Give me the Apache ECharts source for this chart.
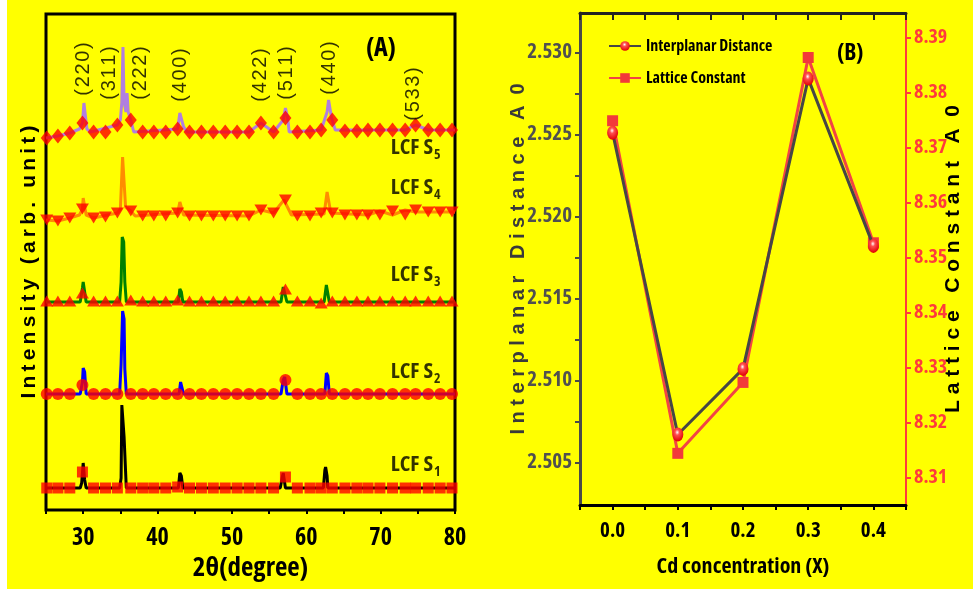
<!DOCTYPE html>
<html>
<head>
<meta charset="utf-8">
<style>
  html, body { margin: 0; padding: 0; background: #fff; }
  #paper { position: absolute; left: 7px; top: 0; width: 966px; height: 589px; background: #ffff00; }
  #chart { position: absolute; left: 0; top: 0; width: 973px; height: 592px; }
</style>
<script src="https://cdn.jsdelivr.net/npm/echarts@6.0.0/dist/echarts.min.js"></script>
</head>
<body>
<div id="paper"></div>
<div id="chart"></div>
<script>
// ---- (A) XRD patterns: [2theta, intensity above own baseline] ----
const sampleNumbers = ['1', '2', '3', '4', '5'];
const baselines = [22, 116, 208, 293, 378];
const sampleLabelY = [45, 138, 235, 322, 362];

const patternS1 = [[25,0],[29.6,0],[29.8,5],[30.0,25],[30.2,8],[30.4,0],[34.9,0],[35.1,10],[35.2,83],[35.4,83],[35.5,51],[35.7,51],[35.8,0],
  [42.8,0],[43.0,15],[43.2,12],[43.4,0],[56.5,0],[56.8,12],[56.9,15],[57.2,0],[62.3,0],[62.5,18],[62.6,21],[62.8,12],[62.9,0],[80,0]];
const patternS2 = [[25,0],[29.6,0],[29.9,12],[30.0,26],[30.2,22],[30.4,0],[34.9,0],[35.1,30],[35.3,83],[35.5,75],[35.6,25],[35.8,0],
  [42.9,0],[43.1,12],[43.3,10],[43.5,0],[56.6,0],[56.9,14],[57.1,17],[57.4,0],[62.5,0],[62.7,21],[62.9,18],[63.1,0],[80,0]];
const patternS3 = [[25,0],[29.6,0],[29.9,14],[30.0,20],[30.2,18],[30.4,0],[34.9,0],[35.1,20],[35.25,65],[35.45,60],[35.6,20],[35.8,0],
  [42.8,0],[43.0,13],[43.2,10],[43.4,0],[56.6,0],[56.9,15],[57.1,15],[57.4,0],[62.4,0],[62.7,17],[62.9,15],[63.1,0],[80,0]];
const patternS4 = [[25,-3],[26.6,-4],[28.2,-1],[29.5,2],[29.9,8],[30.0,19],[30.2,19],[30.4,2],[31.4,-1],[34.6,4],[35.0,8],[35.3,60],[35.5,60],[35.7,10],
  [36.4,6],[37,1],[42.7,4],[43.0,15],[43.2,15],[43.5,2],[52.3,1],[53.9,7],[55.6,4],[57.0,17],[58.0,2],[62.4,3],[62.8,25],[63.0,25],[63.3,4],
  [68.3,2],[69.9,6],[71.6,2],[73.3,7],[74.7,5],[80,5]];
const patternS5 = [[25,-6],[26.6,-4],[28.2,-1],[29.5,3],[29.9,9],[30.1,29],[30.3,29],[30.5,3],[31,0],[34.6,7],[35.0,12],[35.2,30],[35.35,85],[35.5,30],
  [35.75,20],[35.9,39],[36.05,20],[36.4,12],[36.8,0],[42.7,3],[43.0,19],[43.2,19],[43.5,5],[44,0],[52.3,0],[53.9,9],[55.6,0],[56.9,12],[57.2,24],
  [57.5,14],[57.7,0],[62.0,2],[62.8,20],[63.0,32],[63.2,32],[63.4,14],[63.9,2],[73.3,2],[74.7,7],[76.4,2],[80,2]];

// symbol positions along each trace (every ~1.6 deg) and their heights
const markerAngles = [25.1, 26.6, 28.2, 29.9, 31.4, 33.0, 34.6, 36.4, 38.0, 39.5, 41.1, 42.7, 44.3, 45.9, 47.5, 49.1, 50.7, 52.3,
  53.9, 55.6, 57.2, 58.8, 60.5, 62.0, 63.5, 65.2, 66.8, 68.3, 69.9, 71.6, 73.3, 74.7, 76.4, 78.0, 79.6];
const markerS1 = [0,0,0,16,0,0,0,0,0,0,0,1,0,0,0,0,0,0,0,0,11,0,0,0,0,0,0,0,0,0,0,0,0,0,0];
const markerS2 = [0,0,0,9,0,0,0,0,0,0,0,0,0,0,0,0,0,0,0,0,14,0,0,0,0,0,0,0,0,0,0,0,0,0,0];
const markerS3 = [1,1,1,9,1,1,1,2,1,1,1,2,1,1,1,1,1,1,1,1,13,1,1,-1,1,1,1,1,1,1,1,1,1,1,1];
const markerS4 = [-3,-4,-1,8,-1,0,4,6,1,1,1,4,1,1,1,1,1,1,7,4,17,1,1,4,4,2,2,2,2,6,2,7,5,5,5];
const markerS5 = [-6,-4,-1,9,0,0,7,12,0,0,0,3,0,0,0,0,0,0,9,0,14,0,0,2,12,1,1,2,2,2,2,7,2,2,2];

const millerLabels = ['(220)', '(311)', '(222)', '(400)', '(422)', '(511)', '(440)', '(533)'];
const millerAngles = [30.0, 33.6, 37.7, 43.1, 53.9, 57.3, 63.1, 74.4];
const millerLevels = [441, 437, 437, 435, 435, 437, 442, 416];

// ---- (B) Cd concentration ----
const cdConcentration = [0.0, 0.1, 0.2, 0.3, 0.4];
const interplanarDistance = [2.5251, 2.5067, 2.5107, 2.5284, 2.5182];
const latticeConstant = [8.3749, 8.3144, 8.3273, 8.3864, 8.3527];
const leftTicks = [2.505, 2.51, 2.515, 2.52, 2.525, 2.53];
const leftMinorTicks = [2.505, 2.5075, 2.51, 2.5125, 2.515, 2.5175, 2.52, 2.5225, 2.525, 2.5275, 2.53];
const rightTicks = [8.31, 8.32, 8.33, 8.34, 8.35, 8.36, 8.37, 8.38, 8.39];

const ARIAL = "'Liberation Sans', Arial, sans-serif";
const narrow = (size, color) => ({
  fontFamily: "'Open Sans', sans-serif", fontWeight: 'bold condensed', fontSize: size, color: color || '#000'
});
const RED = '#ff0000';

const patterns = [patternS1, patternS2, patternS3, patternS4, patternS5];
const markers = [markerS1, markerS2, markerS3, markerS4, markerS5];
const traceColors = ['#000000', '#0000ff', '#008000', '#ff8c00', '#b07fe0'];
const markerShapes = ['rect', 'circle', 'triangle', 'triangle', 'diamond'];
const markerSizes = [[11, 11], [12, 12], [13, 11], [13, 11], [12, 15]];
const markerRotate = [0, 0, 0, 180, 0];

const spread = (s, gap) => s.split('').join(gap);

const chart = echarts.init(document.getElementById('chart'), null, { renderer: 'canvas' });

const series = [];
patterns.forEach((pat, i) => {
  series.push({
    type: 'line', xAxisIndex: 0, yAxisIndex: 0, z: 2,
    data: pat.map(p => [p[0], p[1] + baselines[i]]),
    showSymbol: false, symbol: 'none',
    lineStyle: { color: traceColors[i], width: 3 },
    silent: true
  });
  series.push({
    type: 'scatter', xAxisIndex: 0, yAxisIndex: 0, z: 3,
    data: markerAngles.map((a, k) => [a, markers[i][k] + baselines[i]]),
    symbol: markerShapes[i], symbolSize: markerSizes[i], symbolRotate: markerRotate[i],
    itemStyle: { color: RED },
    silent: true
  });
});

// sample names, LCF S1..S5
series.push({
  type: 'scatter', xAxisIndex: 0, yAxisIndex: 0, z: 4,
  data: sampleNumbers.map((n, i) => [71.3, sampleLabelY[i]]),
  symbolSize: 1, itemStyle: { color: 'transparent' },
  label: {
    show: true, position: 'right', distance: 0,
    formatter: p => '{a|LCF S}{b|' + sampleNumbers[p.dataIndex] + '}',
    rich: {
      a: Object.assign(narrow(22), { lineHeight: 22, verticalAlign: 'top' }),
      b: Object.assign(narrow(14), { lineHeight: 14, padding: [11, 0, 0, 1], verticalAlign: 'top' })
    }
  },
  silent: true
});

// Miller indices
series.push({
  type: 'scatter', xAxisIndex: 0, yAxisIndex: 0, z: 4,
  data: millerAngles.map((a, k) => [a, millerLevels[k]]),
  symbolSize: 1, itemStyle: { color: 'transparent' },
  label: {
    show: true, position: 'inside', rotate: 90,
    formatter: p => spread(millerLabels[p.dataIndex], '\u200a'),
    fontFamily: ARIAL, fontSize: 20, color: '#000'
  },
  silent: true
});

// (B)
series.push({
  name: 'Lattice Constant', type: 'line', xAxisIndex: 1, yAxisIndex: 2, z: 3,
  data: cdConcentration.map((c, i) => [c, latticeConstant[i]]),
  symbol: 'rect', symbolSize: 11,
  itemStyle: { color: '#f23a3a' },
  lineStyle: { color: '#f24444', width: 3 }
});
series.push({
  name: 'Interplanar Distance', type: 'line', xAxisIndex: 1, yAxisIndex: 1, z: 4,
  data: cdConcentration.map((c, i) => [c, interplanarDistance[i]]),
  symbol: 'circle', symbolSize: [11, 14],
  itemStyle: {
    color: new echarts.graphic.RadialGradient(0.45, 0.35, 0.65, [
      { offset: 0, color: '#ffffff' },
      { offset: 0.3, color: '#ff5050' },
      { offset: 1, color: '#e00000' }
    ])
  },
  lineStyle: { color: '#464646', width: 3 }
});

chart.setOption({
  backgroundColor: 'transparent',
  animation: false,
  title: [
    { text: '(A)', left: 361, top: 31, textStyle: narrow(26) },
    { text: '(B)', left: 832, top: 37, textStyle: narrow(23) }
  ],
  legend: {
    data: ['Interplanar Distance', 'Lattice Constant'],
    orient: 'vertical', left: 603, top: 33, itemWidth: 32, itemHeight: 12, itemGap: 16,
    textStyle: narrow(16)
  },
  grid: [
    { left: 46, top: 14, width: 409, height: 496, show: true, borderColor: '#000', borderWidth: 3, backgroundColor: 'transparent' },
    { left: 580, top: 13, width: 326, height: 492 }
  ],
  xAxis: [
    {
      gridIndex: 0, type: 'value', min: 25, max: 80, interval: 5,
      axisLine: { show: false, onZero: false },
      axisTick: { show: true, inside: false, length: 4, lineStyle: { color: '#000', width: 2 } },
      axisLabel: Object.assign({ formatter: v => (v % 10 === 0 ? String(v) : ''), margin: 16 }, narrow(24)),
      splitLine: { show: false },
      name: '2\u03b8(degree)', nameLocation: 'middle', nameGap: 45, nameMoveOverlap: false,
      nameTextStyle: narrow(27)
    },
    {
      gridIndex: 1, type: 'value', min: -0.05, max: 0.45, interval: 0.05,
      axisLine: { onZero: false, lineStyle: { color: '#000', width: 3 } },
      axisTick: { inside: false, length: 5, lineStyle: { color: '#000', width: 2 } },
      axisLabel: Object.assign({ formatter: v => (Math.round(v * 100) % 10 === 0 ? v.toFixed(1) : ''), margin: 16 }, narrow(21)),
      splitLine: { show: false },
      name: 'Cd concentration (X)', nameLocation: 'middle', nameGap: 51, nameMoveOverlap: false,
      nameTextStyle: narrow(22)
    },
    {
      gridIndex: 1, type: 'value', position: 'top', min: -0.05, max: 0.45, interval: 0.05,
      axisLine: { onZero: false, lineStyle: { color: '#222', width: 3 } },
      axisTick: { inside: true, length: 7, lineStyle: { color: '#222', width: 2 } },
      axisLabel: { show: false },
      splitLine: { show: false }
    }
  ],
  yAxis: [
    {
      gridIndex: 0, type: 'value', min: 0, max: 496,
      axisLine: { show: false, onZero: false }, axisTick: { show: false }, axisLabel: { show: false }, splitLine: { show: false },
      name: spread('Intensity (arb. unit)', '\u2009'), nameLocation: 'middle', nameGap: 6, nameMoveOverlap: false,
      nameTextStyle: { fontFamily: ARIAL, fontWeight: 'bold', fontSize: 21, color: '#000' }
    },
    {
      gridIndex: 1, type: 'value', min: 2.5024, max: 2.5324,
      axisLine: { show: true, onZero: false, lineStyle: { color: '#4a4a4a', width: 3 } },
      axisTick: { show: true, customValues: leftMinorTicks, length: 5, lineStyle: { color: '#4a4a4a', width: 2 } },
      axisLabel: Object.assign({ customValues: leftTicks, formatter: v => v.toFixed(3), margin: 8 }, narrow(21, '#505050')),
      splitLine: { show: false },
      name: 'I n t e r p l a n a r   D i s t a n c e   A  0', nameLocation: 'middle', nameGap: 52, nameMoveOverlap: false,
      nameTextStyle: { fontFamily: ARIAL, fontWeight: 'bold', fontSize: 20, color: '#3a3a3a' }
    },
    {
      gridIndex: 1, type: 'value', position: 'right', min: 8.305, max: 8.3945,
      axisLine: { show: true, onZero: false, lineStyle: { color: '#ff3b3b', width: 2 } },
      axisTick: { show: true, customValues: rightTicks, length: 5, lineStyle: { color: '#ff3b3b', width: 2 } },
      axisLabel: Object.assign({ customValues: rightTicks, formatter: v => v.toFixed(2), margin: 8 }, narrow(20, '#ff3b3b')),
      splitLine: { show: false },
      name: 'L a t t i c e   C o n s t a n t   A  0', nameLocation: 'middle', nameGap: 37, nameRotate: 90, nameMoveOverlap: false,
      nameTextStyle: { fontFamily: ARIAL, fontWeight: 'bold', fontSize: 21, color: '#000' }
    }
  ],
  series
});

window.addEventListener('resize', () => chart.resize());
</script>
</body>
</html>
